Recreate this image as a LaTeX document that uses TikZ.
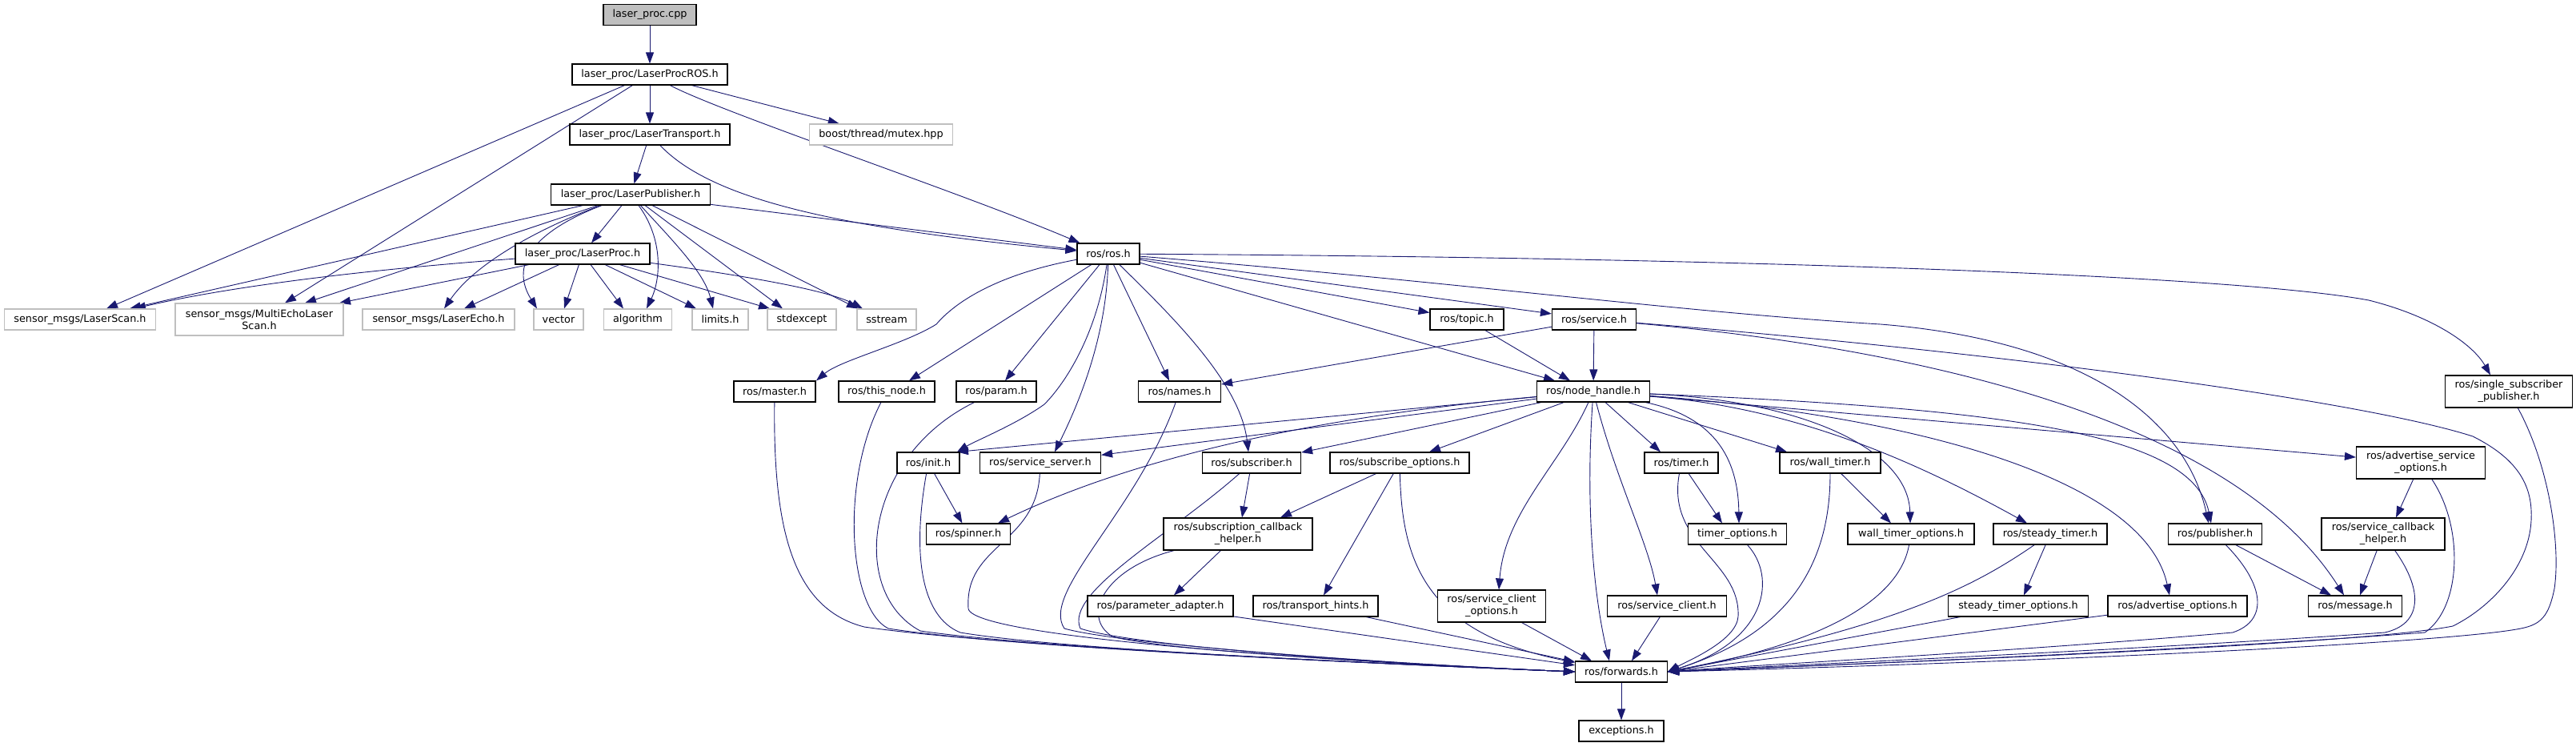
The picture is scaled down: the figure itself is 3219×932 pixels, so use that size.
\documentclass[tikz,border=0pt]{standalone}
\usepackage{fontspec}
\setmainfont{DejaVu Sans}
\usetikzlibrary{arrows.meta}
\definecolor{edgec}{HTML}{191970}
\definecolor{greyb}{HTML}{BFBFBF}
\pgfdeclarelayer{bg}
\pgfsetlayers{bg,main}
\begin{document}
\begin{tikzpicture}[x=1pt,y=-1pt,
  box/.style={draw=black, line width=1.15pt, fill=white, minimum height=26pt, inner sep=0pt, align=center, font=\fontsize{12.8}{15}\selectfont},
  ext/.style={box, draw=greyb},
  tall/.style={minimum height=40pt},
  dep/.style={draw=edgec, line width=0.9pt, -{Triangle[length=14pt,width=10pt]}},
]
\useasboundingbox (0,0) rectangle (3219,932);
\node[box,fill=greyb,minimum width=116pt] (cpp) at (812,18.5) {laser\_proc.cpp};
\node[box,minimum width=194pt] (lpros) at (812,93) {laser\_proc/LaserProcROS.h};
\node[box,minimum width=200pt] (lt) at (812,168) {laser\_proc/LaserTransport.h};
\node[ext,minimum width=179pt] (mutex) at (1101,168) {boost/thread/mutex.hpp};
\node[box,minimum width=199pt] (lpub) at (788,243) {laser\_proc/LaserPublisher.h};
\node[box,minimum width=168pt] (lproc) at (728,317) {laser\_proc/LaserProc.h};
\node[ext,minimum width=189pt] (scan) at (100,399) {sensor\_msgs/LaserScan.h};
\node[ext,tall,minimum width=210pt] (multi) at (324,399) {sensor\_msgs/MultiEchoLaser\\Scan.h};
\node[ext,minimum width=190pt] (echo) at (548,399) {sensor\_msgs/LaserEcho.h};
\node[ext,minimum width=62pt] (vector) at (698,399) {vector};
\node[ext,minimum width=85pt] (algo) at (797,399) {algorithm};
\node[ext,minimum width=70pt] (limits) at (900,399) {limits.h};
\node[ext,minimum width=86pt] (stdexc) at (1002,399) {stdexcept};
\node[ext,minimum width=74pt] (sstream) at (1108,399) {sstream};
\node[box,minimum width=78pt] (rosh) at (1385,317) {ros/ros.h};
\node[box,minimum width=102pt] (master) at (968,489) {ros/master.h};
\node[box,minimum width=120pt] (thisnode) at (1108,489) {ros/this\_node.h};
\node[box,minimum width=100pt] (param) at (1245,489) {ros/param.h};
\node[box,minimum width=103pt] (names) at (1474,489) {ros/names.h};
\node[box,minimum width=92pt] (topic) at (1833,399) {ros/topic.h};
\node[box,minimum width=105pt] (service) at (1992,399) {ros/service.h};
\node[box,minimum width=141pt] (nh) at (1991,489) {ros/node\_handle.h};
\node[box,tall,minimum width=159pt] (ssp) at (3135,489) {ros/single\_subscriber\\\_publisher.h};
\node[box,minimum width=78pt] (init) at (1160,578) {ros/init.h};
\node[box,minimum width=151pt] (sserver) at (1300,578) {ros/service\_server.h};
\node[box,minimum width=123pt] (subscriber) at (1564,578) {ros/subscriber.h};
\node[box,minimum width=174pt] (subopts) at (1749,578) {ros/subscribe\_options.h};
\node[box,minimum width=92pt] (timer) at (2101,578) {ros/timer.h};
\node[box,minimum width=126pt] (walltimer) at (2287,578) {ros/wall\_timer.h};
\node[box,tall,minimum width=161pt] (aso) at (3025,578) {ros/advertise\_service\\\_options.h};
\node[box,minimum width=105pt] (spinner) at (1210,667) {ros/spinner.h};
\node[box,tall,minimum width=186pt] (sch) at (1547,667) {ros/subscription\_callback\\\_helper.h};
\node[box,minimum width=123pt] (timeropts) at (2171,667) {timer\_options.h};
\node[box,minimum width=158pt] (wto) at (2388,667) {wall\_timer\_options.h};
\node[box,minimum width=142pt] (steady) at (2562,667) {ros/steady\_timer.h};
\node[box,minimum width=117pt] (publisher) at (2768,667) {ros/publisher.h};
\node[box,tall,minimum width=154pt] (scbh) at (2978,667) {ros/service\_callback\\\_helper.h};
\node[box,minimum width=182pt] (padapter) at (1450,757) {ros/parameter\_adapter.h};
\node[box,minimum width=156pt] (thints) at (1644,757) {ros/transport\_hints.h};
\node[box,tall,minimum width=135pt] (sco) at (1864,757) {ros/service\_client\\\_options.h};
\node[box,minimum width=149pt] (sclient) at (2083,757) {ros/service\_client.h};
\node[box,minimum width=175pt] (sto) at (2522,757) {steady\_timer\_options.h};
\node[box,minimum width=174pt] (advopts) at (2721,757) {ros/advertise\_options.h};
\node[box,minimum width=117pt] (message) at (2943,757) {ros/message.h};
\node[box,minimum width=115pt] (forwards) at (2026,839) {ros/forwards.h};
\node[box,minimum width=106pt] (exc) at (2026,913) {exceptions.h};

\begin{pgfonlayer}{bg}
% top chain
\draw[dep] (cpp) -- (lpros);
\draw[dep] (lpros) -- (lt);
\draw[dep] (lpros) -- (mutex);
\draw[dep] (lpros) -- ([xshift=33pt]scan.north);
\draw[dep] (lpros) -- ([xshift=32pt]multi.north);
\draw[dep] (lpros) .. controls (900,140) and (1200,240) .. ([xshift=4pt]rosh.north west);
\draw[dep] (lt) -- (lpub);
\draw[dep] (lt) .. controls (890,250) and (1050,285) .. (rosh);
\draw[dep] (lpub) -- (rosh);
\draw[dep] (lpub) -- (lproc);
\draw[dep] (lpub) -- ([xshift=62pt]scan.north);
\draw[dep] (lpub) -- ([xshift=57pt]multi.north);
\draw[dep] (lpub) .. controls (700,275) and (600,320) .. ([xshift=7pt]echo.north);
\draw[dep] (lpub) .. controls (690,280) and (630,320) .. ([xshift=-27pt]vector.north);
\draw[dep] (lpub) .. controls (830,300) and (825,350) .. ([xshift=11pt]algo.north);
\draw[dep] (lpub) .. controls (840,300) and (880,340) .. ([xshift=-9pt]limits.north);
\draw[dep] (lpub) -- ([xshift=-24pt]stdexc.north);
\draw[dep] (lpub) -- ([xshift=-36pt]sstream.north);
% LaserProc
\draw[dep] (lproc) .. controls (480,335) and (300,355) .. ([xshift=68pt]scan.north);
\draw[dep] (lproc) -- ([xshift=100pt]multi.north);
\draw[dep] (lproc) -- ([xshift=32pt]echo.north);
\draw[dep] (lproc) -- ([xshift=7pt]vector.north);
\draw[dep] (lproc) -- ([xshift=-18pt]algo.north);
\draw[dep] (lproc) -- ([xshift=-30pt]limits.north);
\draw[dep] (lproc) -- ([xshift=-40pt]stdexc.north);
\draw[dep] (lproc) .. controls (900,340) and (1030,360) .. ([xshift=-30pt]sstream.north);
% ros.h
\draw[dep] (rosh) .. controls (1260,340) and (1200,370) .. (1170,405) .. controls (1130,430) and (1050,450) .. ([xshift=52pt]master.north);
\draw[dep] (rosh) -- ([xshift=28pt]thisnode.north);
\draw[dep] (rosh) -- ([xshift=11pt]param.north);
\draw[dep] (rosh) .. controls (1370,420) and (1330,480) .. (1305,505) .. controls (1270,530) and (1220,550) .. ([xshift=36pt]init.north);
\draw[dep] (rosh) .. controls (1382,420) and (1350,500) .. ([xshift=18pt]sserver.north);
\draw[dep] (rosh) -- ([xshift=-13pt]names.north);
\draw[dep] (rosh) .. controls (1470,400) and (1550,480) .. ([xshift=-4pt]subscriber.north);
\draw[dep] (rosh) -- ([xshift=-48pt]nh.north);
\draw[dep] (rosh) -- (topic);
\draw[dep] (rosh) -- (service);
\draw[dep] (rosh) .. controls (1800,350) and (2100,390) .. (2350,405) .. controls (2600,425) and (2730,520) .. ([xshift=-8pt]publisher.north);
\draw[dep] (rosh) .. controls (2200,322) and (2800,345) .. (2960,375) .. controls (3040,395) and (3090,430) .. ([xshift=-23pt]ssp.north);
% topic, service
\draw[dep] (topic) -- ([xshift=-29pt]nh.north);
\draw[dep] (service) -- (names);
\draw[dep] (service) -- (nh);
\draw[dep] (service) .. controls (2450,440) and (2800,540) .. ([xshift=-14pt]message.north);
\draw[dep] (service) .. controls (2500,440) and (2950,500) .. (3090,545) .. controls (3150,575) and (3165,610) .. (3163,650) .. controls (3160,710) and (3110,760) .. (3065,782) .. controls (2950,805) and (2400,826) .. (forwards.east);
\draw[dep] (ssp) .. controls (3185,580) and (3200,680) .. (3192,735) .. controls (3185,770) and (3175,780) .. (3150,785) .. controls (3050,805) and (2450,830) .. (forwards.east);
% node_handle
\draw[dep] (nh) .. controls (1980,650) and (1995,760) .. ([xshift=-15pt]forwards.north);
\draw[dep] (nh) -- ([xshift=36pt]init.north);
\draw[dep] (nh) -- (sserver);
\draw[dep] (nh) .. controls (1650,520) and (1420,570) .. ([xshift=37pt]spinner.north);
\draw[dep] (nh) -- (subscriber);
\draw[dep] (nh) -- ([xshift=37pt]subopts.north);
\draw[dep] (nh) .. controls (1950,580) and (1880,640) .. ([xshift=9pt]sco.north);
\draw[dep] (nh) .. controls (2020,600) and (2060,680) .. ([xshift=-12pt]sclient.north);
\draw[dep] (nh) -- ([xshift=-26pt]timer.north);
\draw[dep] (nh) -- ([xshift=-54pt]walltimer.north);
\draw[dep] (nh) .. controls (2140,520) and (2172,570) .. ([xshift=2pt]timeropts.north);
\draw[dep] (nh) .. controls (2250,500) and (2385,560) .. ([xshift=-1pt]wto.north);
\draw[dep] (nh) .. controls (2250,510) and (2400,580) .. ([xshift=-29pt]steady.north);
\draw[dep] (nh) .. controls (2400,520) and (2680,600) .. ([xshift=-10pt]advopts.north);
\draw[dep] (nh) .. controls (2500,510) and (2740,540) .. ([xshift=-5pt]publisher.north);
\draw[dep] (nh) -- (aso);
% middle
\draw[dep] (init) -- (spinner);
\draw[dep] (subscriber) -- ([xshift=5pt]sch.north);
\draw[dep] (subopts) -- ([xshift=53pt]sch.north);
\draw[dep] (subopts) -- ([xshift=10pt]thints.north);
\draw[dep] (sch) -- ([xshift=17pt]padapter.north);
\draw[dep] (timer) -- ([xshift=-19pt]timeropts.north);
\draw[dep] (walltimer) -- ([xshift=-25pt]wto.north);
\draw[dep] (steady) -- ([xshift=7pt]sto.north);
\draw[dep] (publisher) -- ([xshift=-30pt]message.north);
\draw[dep] (scbh) -- ([xshift=6pt]message.north);
\draw[dep] (aso) -- ([xshift=16pt]scbh.north);
% into forwards from the left
\draw[dep] (master) .. controls (966,660) and (990,760) .. (1080,783) .. controls (1250,808) and (1750,830) .. (forwards.west);
\draw[dep] (thisnode) .. controls (1050,600) and (1060,760) .. (1110,785) .. controls (1270,810) and (1750,830) .. (forwards.west);
\draw[dep] (param) .. controls (1080,570) and (1060,740) .. (1150,788) .. controls (1300,810) and (1750,830) .. (forwards.west);
\draw[dep] (init) .. controls (1140,690) and (1150,770) .. (1200,790) .. controls (1330,812) and (1750,830) .. (forwards.west);
\draw[dep] (sserver) .. controls (1295,680) and (1205,680) .. (1210,760) .. controls (1215,800) and (1750,830) .. (forwards.west);
\draw[dep] (names) .. controls (1420,640) and (1300,740) .. (1330,785) .. controls (1400,805) and (1750,830) .. (forwards.west);
\draw[dep] (subscriber) .. controls (1460,670) and (1330,740) .. (1350,785) .. controls (1420,808) and (1750,830) .. (forwards.west);
\draw[dep] (sch) .. controls (1380,710) and (1350,770) .. (1390,795) .. controls (1450,812) and (1750,830) .. (forwards.west);
\draw[dep] (padapter) -- (forwards);
\draw[dep] (thints) -- (forwards);
\draw[dep] (subopts) .. controls (1752,700) and (1780,790) .. (forwards);
\draw[dep] (sco) -- ([xshift=-37pt]forwards.north);
\draw[dep] (sclient) -- ([xshift=13pt]forwards.north);
% into forwards from the right
\draw[dep] (timer) .. controls (2082,680) and (2175,700) .. (2172,770) .. controls (2170,800) and (2110,825) .. (forwards.east);
\draw[dep] (walltimer) .. controls (2287,700) and (2240,790) .. (forwards.east);
\draw[dep] (timeropts) .. controls (2220,720) and (2210,800) .. (forwards.east);
\draw[dep] (wto) .. controls (2375,740) and (2300,800) .. (forwards.east);
\draw[dep] (steady) .. controls (2470,730) and (2380,780) .. (forwards.east);
\draw[dep] (sto) -- (forwards.east);
\draw[dep] (advopts) -- (forwards.east);
\draw[dep] (publisher) .. controls (2830,730) and (2835,775) .. (2790,790) .. controls (2500,815) and (2200,830) .. (forwards.east);
\draw[dep] (scbh) .. controls (3030,740) and (3025,780) .. (2980,790) .. controls (2700,810) and (2250,830) .. (forwards.east);
\draw[dep] (aso) .. controls (3080,660) and (3075,760) .. (3030,790) .. controls (2700,815) and (2250,832) .. (forwards.east);
\draw[dep] (forwards) -- (exc);
\end{pgfonlayer}
\end{tikzpicture}
\end{document}
